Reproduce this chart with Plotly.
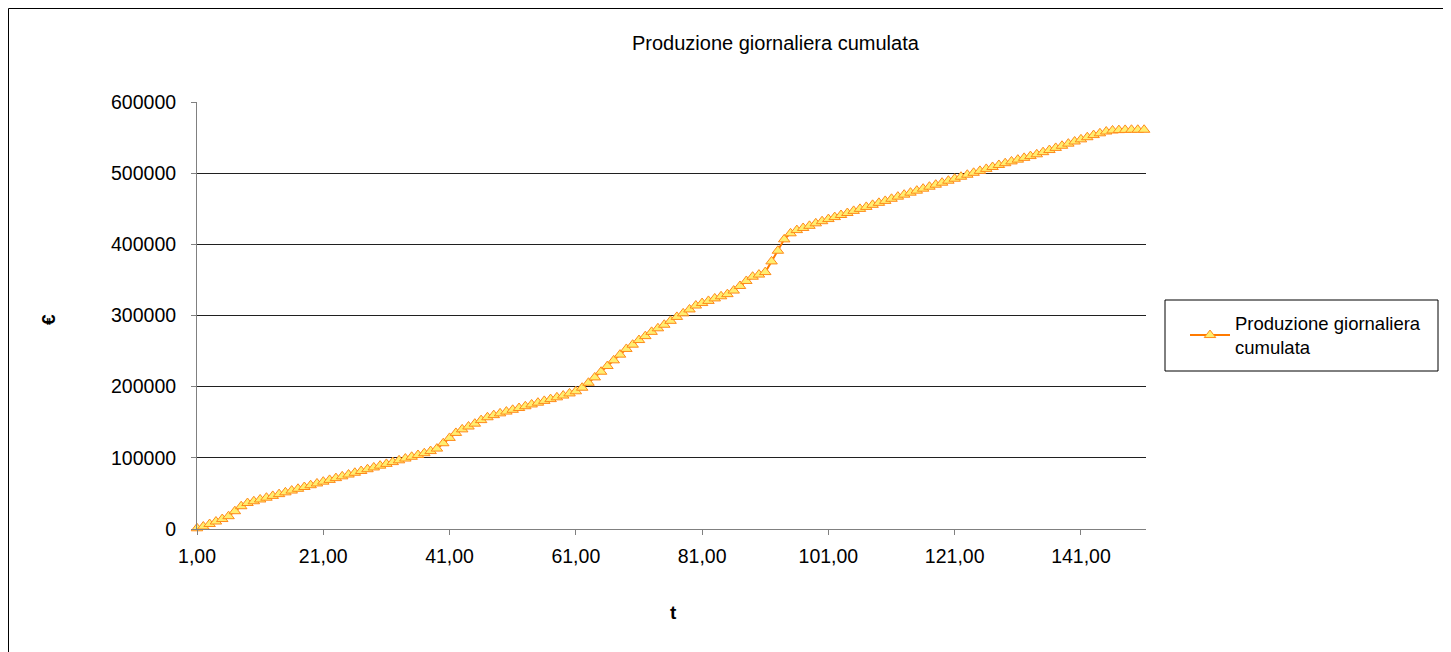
import plotly.graph_objects as go

# ---- data ----
giorni = list(range(1, 152))
produzione_cumulata = [
    1000, 3500, 7000, 10500, 14000, 18000, 25000, 32000, 36500, 39000,
    41500, 44000, 46500, 49000, 51500, 54000, 56500, 59000, 61500, 64000,
    66500, 69000, 71500, 74000, 76500, 79000, 81500, 84000, 86500, 89000,
    91500, 94000, 96500, 99000, 101500, 104000, 106500, 109500, 113000, 120500,
    128000, 135000, 140000, 144000, 148000, 153000, 157000, 160000, 162500, 165000,
    167500, 170000, 172500, 175000, 177500, 180000, 182500, 185000, 187500, 190500,
    193500, 198500, 205500, 213000, 221000, 229000, 237000, 245000, 253000, 259000,
    265500, 271000, 277000, 282000, 287000, 292500, 298000, 303000, 308500, 314000,
    317500, 320500, 324000, 327000, 330000, 335000, 341500, 348500, 354500, 357500,
    361000, 376000, 391000, 407000, 415500, 420000, 423000, 426000, 429500, 432500,
    435500, 438300, 441200, 444000, 447000, 449800, 452600, 455500, 458300, 461000,
    464000, 467000, 469800, 472600, 475400, 478200, 481000, 483800, 486600, 489400,
    492200, 495000, 497800, 500500, 503200, 506000, 508700, 511500, 514000, 516500,
    519000, 521500, 524000, 526500, 529500, 532500, 535500, 538500, 541500, 544500,
    547500, 550500, 553500, 556000, 558500, 560000, 560500, 560800, 561000, 561000, 561000,
]
x_tick_vals = [1, 21, 41, 61, 81, 101, 121, 141]
x_tick_text = ["1,00", "21,00", "41,00", "61,00", "81,00", "101,00", "121,00", "141,00"]
y_tick_vals = [0, 100000, 200000, 300000, 400000, 500000, 600000]

title_text = "Produzione giornaliera cumulata"
series_name = "Produzione giornaliera<br>cumulata"

FONT = "Liberation Sans, Arial, sans-serif"

# page body margin (browser default) shifts the figure by 8 px
OFF = 8
W, H = 1451 - OFF, 652 - OFF
# plot area in screen pixels
L, R, T, B = 197, 1146, 102, 529
pw, ph = R - L, B - T


def px(xp):
    return (xp - L) / pw


def py(yp):
    return (B - yp) / ph


fig = go.Figure()
fig.add_trace(go.Scatter(
    x=giorni,
    y=produzione_cumulata,
    mode="lines+markers",
    name=series_name,
    line=dict(color="#FF7A00", width=2),
    marker=dict(symbol="triangle-up", size=10, color="#FFEE70",
                line=dict(color="#FF8A1A", width=1)),
    cliponaxis=False,
))

fig.update_layout(
    width=W, height=H,
    margin=dict(l=L - OFF, r=W - (R - OFF), t=T - OFF, b=H - (B - OFF), pad=0),
    paper_bgcolor="white",
    plot_bgcolor="white",
    font=dict(family=FONT, size=18, color="black"),
    showlegend=True,
    legend=dict(
        x=px(1185), y=py(335.5), xanchor="left", yanchor="middle",
        bgcolor="rgba(0,0,0,0)", borderwidth=0,
        font=dict(family=FONT, size=18.5, color="black"),
        itemwidth=40,
    ),
    xaxis=dict(
        range=[1, 151.3],
        tickmode="array", tickvals=x_tick_vals, ticktext=x_tick_text,
        showgrid=False, zeroline=False,
        showline=True, linecolor="#808080", linewidth=1,
        ticks="outside", ticklen=5, tickcolor="#808080",
        tickfont=dict(family=FONT, size=19.5, color="black"),
        ticklabelstandoff=5,
    ),
    yaxis=dict(
        range=[0, 600000],
        tickmode="array", tickvals=y_tick_vals, tickformat="d",
        showgrid=True, gridcolor="#202020", gridwidth=1,
        zeroline=False,
        showline=True, linecolor="#808080", linewidth=1,
        ticks="outside", ticklen=5, tickcolor="#808080",
        tickfont=dict(family=FONT, size=19.5, color="black"),
        ticklabelstandoff=11,
    ),
    annotations=[
        dict(text=title_text, x=px(776), y=py(43), xref="paper", yref="paper",
             showarrow=False, xanchor="center", yanchor="middle",
             font=dict(family=FONT, size=20, color="black")),
        dict(text="<b>t</b>", x=px(673), y=py(612), xref="paper", yref="paper",
             showarrow=False, xanchor="center", yanchor="middle",
             font=dict(family=FONT, size=19, color="black")),
        dict(text="<b>€</b>", x=px(48), y=py(320), xref="paper", yref="paper",
             showarrow=False, xanchor="center", yanchor="middle", textangle=-90,
             font=dict(family=FONT, size=19, color="black")),
    ],
    shapes=[
        # outer chart border (as close to the page edge as the figure allows)
        dict(type="rect", xref="paper", yref="paper",
             x0=px(8.5), x1=px(1448.5), y0=py(664), y1=py(8.5),
             line=dict(color="black", width=1), fillcolor="rgba(0,0,0,0)",
             layer="below"),
        # legend box
        dict(type="rect", xref="paper", yref="paper",
             x0=px(1165), x1=px(1438), y0=py(371), y1=py(300),
             line=dict(color="black", width=1), fillcolor="rgba(0,0,0,0)"),
    ],
)

fig.write_html("out.html")
